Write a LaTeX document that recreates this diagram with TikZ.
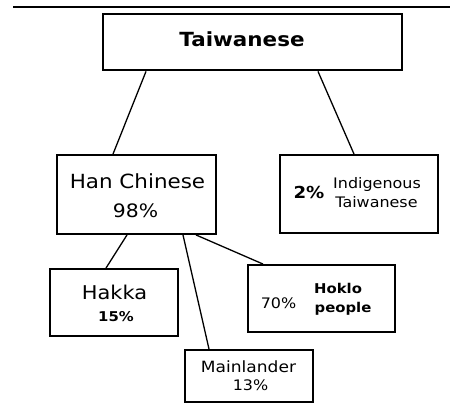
\documentclass[tikz,border=0pt]{standalone}
\usepackage{fontspec}
\newfontfamily\df[FakeStretch=1.1]{DejaVu Sans}
\begin{document}
\begin{tikzpicture}[x=1pt,y=1pt,
  box/.style={draw=black,line width=1.9pt,fill=white,inner sep=0pt},
  txt/.style={anchor=base,inner sep=0pt,font=\df},
  conn/.style={draw=black,line width=1.3pt}]
\useasboundingbox (0,0) rectangle (450,408);
% top rule
\coordinate (r1) at (13,401);
\coordinate (r2) at (450,401);
\draw[line width=2pt] (r1) -- (r2);
% boxes
\node[box,line width=2.8pt,minimum width=299pt,minimum height=56pt] (tw) at (252.5,366) {};
\node[box,minimum width=159pt,minimum height=79pt] (han) at (136.5,213.5) {};
\node[box,minimum width=158pt,minimum height=78pt] (ind) at (359,214) {};
\node[box,minimum width=128pt,minimum height=67pt] (hak) at (114,105.5) {};
\node[box,minimum width=147pt,minimum height=67pt] (hok) at (321.5,109.5) {};
\node[box,minimum width=128pt,minimum height=52pt] (mai) at (249,32) {};
% connectors
\draw[conn] ([xshift=-106.5pt]tw.south) -- ([xshift=-23.5pt]han.north);
\draw[conn] ([xshift=65.5pt]tw.south) -- ([xshift=-5pt]ind.north);
\draw[conn] ([xshift=-9.5pt]han.south) -- ([xshift=-8pt]hak.north);
\draw[conn] ([xshift=46.5pt]han.south) -- ([xshift=-40pt]mai.north);
\draw[conn] ([xshift=59.5pt]han.south) -- ([xshift=-58.5pt]hok.north);
% texts
\node[txt,font=\df\bfseries\fontsize{19.5}{22}\selectfont] (ttw) at (242,361) {Taiwanese};
\node[txt,font=\df\fontsize{19.5}{22}\selectfont] (than) at (137.5,220) {Han Chinese};
\node[txt,font=\df\fontsize{18.5}{22}\selectfont] (t98) at (135.5,191) {98\%};
\node[txt,font=\df\bfseries\fontsize{16.5}{18}\selectfont] (t2) at (309,210) {2\%};
\node[txt,font=\df\fontsize{14.5}{17}\selectfont] (tind) at (377,220) {Indigenous};
\node[txt,font=\df\fontsize{14.5}{17}\selectfont] (ttw2) at (376.5,201) {Taiwanese};
\node[txt,font=\df\fontsize{19}{22}\selectfont] (thak) at (114.5,109) {Hakka};
\node[txt,font=\df\bfseries\fontsize{13.5}{15}\selectfont] (t15) at (116,87) {15\%};
\node[txt,font=\df\fontsize{14.5}{17}\selectfont] (t70) at (278.5,100) {70\%};
\node[txt,anchor=base west,font=\df\bfseries\fontsize{13.5}{15}\selectfont] (thok) at (314,115) {Hoklo};
\node[txt,anchor=base west,font=\df\bfseries\fontsize{13.5}{15}\selectfont] (tpeo) at (314.5,96) {people};
\node[txt,font=\df\fontsize{15.5}{18}\selectfont] (tmai) at (248.5,36) {Mainlander};
\node[txt,font=\df\fontsize{14.5}{17}\selectfont] (t13) at (250.5,18) {13\%};
\end{tikzpicture}
\end{document}
